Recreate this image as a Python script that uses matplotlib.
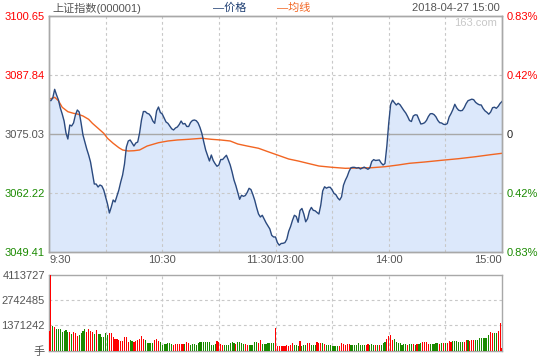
import matplotlib
matplotlib.use("Agg")
import matplotlib.pyplot as plt
import numpy as np

plt.rcParams['font.family'] = ['Liberation Sans', 'Noto Sans CJK SC', 'DejaVu Sans']
plt.rcParams['font.size'] = 8

prev_close = 3075.03

# one price per minute, 9:30-11:30 then 13:00-15:00
price = [
    3082.41, 3082.26, 3082.85, 3084.73, 3083.50, 3082.41, 3080.67, 3079.37, 3077.85, 3075.25,
    3073.94, 3076.98, 3076.77, 3077.42, 3079.15, 3080.24, 3079.81, 3077.42, 3074.81, 3073.29,
    3071.77, 3070.47, 3068.95, 3066.56, 3064.17, 3064.17, 3063.52, 3063.96, 3063.74, 3062.87,
    3061.35, 3059.83, 3057.88, 3059.18, 3060.70, 3060.27, 3061.57, 3062.87, 3064.61, 3066.13,
    3068.52, 3072.21, 3073.51, 3073.73, 3073.08, 3072.42, 3073.08, 3073.29, 3075.25, 3078.07,
    3079.91, 3079.91, 3079.52, 3079.37, 3078.83, 3077.85, 3077.35, 3080.02, 3080.89, 3079.70,
    3079.37, 3078.50, 3077.64, 3077.35, 3076.77, 3076.16, 3075.90, 3076.33, 3076.55, 3077.09,
    3077.85, 3077.20, 3077.31, 3076.66, 3076.66, 3077.53, 3077.96, 3078.07, 3077.92, 3077.42,
    3076.44, 3075.14, 3073.29, 3071.56, 3070.36, 3069.17, 3070.47, 3069.28, 3068.58, 3068.02,
    3068.30, 3069.49, 3069.49, 3069.97, 3070.41, 3069.39, 3068.30, 3066.78, 3065.04, 3063.81,
    3062.37, 3060.85, 3061.72, 3061.50, 3061.66, 3062.33, 3063.24, 3062.96, 3061.89, 3060.64,
    3059.05, 3057.66, 3057.01, 3057.38, 3056.58, 3055.75, 3055.06, 3054.41, 3053.02, 3052.67,
    3052.67, 3051.45, 3050.89, 3051.26, 3051.30, 3051.45, 3052.19, 3053.91, 3054.95, 3056.29,
    3057.38, 3057.12, 3055.86, 3058.42, 3058.86, 3057.66, 3055.97, 3056.64, 3058.31, 3059.09,
    3058.46, 3058.36, 3057.99, 3057.66, 3059.62, 3062.66, 3063.57, 3063.26, 3063.48, 3063.46,
    3062.89, 3062.13, 3061.85, 3061.14, 3060.70, 3061.40, 3063.89, 3064.98, 3065.82, 3066.95,
    3067.71, 3067.80, 3067.78, 3067.63, 3067.74, 3067.43, 3067.65, 3067.84, 3067.61, 3067.37,
    3067.71, 3069.06, 3069.47, 3069.28, 3069.34, 3069.39, 3068.73, 3068.30, 3068.63, 3072.42,
    3077.42, 3081.43, 3082.37, 3081.83, 3081.33, 3081.70, 3081.37, 3080.74, 3080.13, 3079.59,
    3078.83, 3077.96, 3077.74, 3078.94, 3079.20, 3079.15, 3078.18, 3077.20, 3077.29, 3077.48,
    3077.98, 3078.83, 3079.42, 3079.46, 3079.24, 3078.76, 3077.98, 3077.48, 3077.42, 3077.14,
    3077.07, 3077.29, 3078.72, 3079.46, 3080.35, 3081.48, 3080.70, 3080.20, 3080.07, 3080.15,
    3080.76, 3081.63, 3082.26, 3082.43, 3082.59, 3082.48, 3081.91, 3081.59, 3081.37, 3081.33,
    3080.57, 3080.05, 3079.74, 3079.33, 3079.81, 3080.74, 3080.85, 3080.61, 3081.04, 3081.67,
    3082.09,
]

# average price line (read at these minutes)
avg_minute = [0, 3, 5, 7, 10, 13, 15, 18, 21, 23, 26, 29, 31, 34, 37, 39, 42, 45, 48, 52,
              58, 63, 68, 74, 81, 86, 91, 96, 100, 105, 111, 116, 121, 127, 132, 137, 143, 150, 157, 164,
              171, 178, 185, 191, 199, 208, 217, 226, 234, 240]
avg_price = [3082.56, 3083.00, 3082.26, 3080.83, 3079.87, 3079.52, 3079.37, 3078.94, 3078.22, 3077.35,
             3076.27, 3075.18, 3074.10, 3073.01, 3072.06, 3071.56, 3071.34, 3071.40, 3071.56, 3072.42,
             3073.14, 3073.51, 3073.73, 3073.88, 3074.10, 3073.88, 3073.73, 3073.51, 3072.86, 3072.42,
             3071.93, 3071.19, 3070.47, 3069.60, 3069.17, 3068.67, 3068.08, 3067.80, 3067.58, 3067.65,
             3067.71, 3067.93, 3068.30, 3068.67, 3068.95, 3069.32, 3069.67, 3070.10, 3070.54, 3070.84]

# volume per minute (手) and whether the bar is red (1) or green (0)
volume = [
    1080000, 4113727, 1350000, 1300000, 1170000, 1170000, 1170000, 1030000, 1080000, 1120000,
    1030000, 1030000, 900000, 1000000, 960000, 790000, 850000, 970000, 1060000, 1150000,
    1030000, 1150000, 1080000, 1030000, 900000, 1120000, 900000, 900000, 760000, 760000,
    960000, 850000, 970000, 970000, 720000, 630000, 630000, 580000, 520000, 520000,
    720000, 720000, 490000, 580000, 520000, 490000, 520000, 580000, 650000, 790000,
    610000, 580000, 400000, 400000, 400000, 400000, 580000, 610000, 520000, 490000,
    310000, 340000, 360000, 400000, 400000, 340000, 310000, 360000, 360000, 360000,
    360000, 360000, 360000, 450000, 400000, 290000, 360000, 360000, 310000, 400000,
    450000, 490000, 490000, 490000, 490000, 490000, 310000, 310000, 360000, 520000,
    450000, 360000, 310000, 310000, 310000, 310000, 400000, 450000, 400000, 360000,
    450000, 450000, 400000, 360000, 360000, 310000, 310000, 310000, 310000, 490000,
    490000, 400000, 580000, 360000, 360000, 360000, 400000, 400000, 400000, 430000,
    1210000, 250000, 250000, 250000, 250000, 250000, 290000, 250000, 310000, 400000,
    310000, 310000, 250000, 520000, 250000, 310000, 310000, 410000, 410000, 310000,
    310000, 310000, 450000, 400000, 400000, 400000, 360000, 310000, 310000, 310000,
    270000, 250000, 250000, 250000, 250000, 400000, 360000, 310000, 360000, 360000,
    310000, 310000, 310000, 310000, 400000, 310000, 310000, 310000, 310000, 340000,
    310000, 340000, 310000, 310000, 310000, 310000, 310000, 400000, 450000, 630000,
    790000, 850000, 580000, 630000, 490000, 400000, 400000, 310000, 360000, 360000,
    310000, 340000, 360000, 360000, 310000, 360000, 360000, 400000, 450000, 450000,
    450000, 340000, 360000, 360000, 360000, 400000, 400000, 360000, 400000, 400000,
    400000, 400000, 520000, 490000, 520000, 520000, 520000, 490000, 490000, 490000,
    490000, 580000, 580000, 540000, 580000, 580000, 580000, 580000, 670000, 670000,
    670000, 670000, 700000, 850000, 1030000, 940000, 940000, 970000, 1060000, 1500000,
    130000,
]
up = [
    1, 1, 0, 1, 0, 0, 0, 0, 0, 0,
    0, 1, 0, 1, 1, 1, 0, 0, 0, 0,
    1, 1, 1, 1, 0, 1, 0, 0, 0, 0,
    0, 0, 1, 1, 1, 1, 1, 1, 1, 1,
    1, 1, 1, 0, 0, 1, 1, 1, 1, 1,
    1, 0, 0, 0, 0, 0, 1, 1, 1, 0,
    0, 0, 0, 0, 0, 0, 1, 1, 1, 1,
    1, 1, 0, 1, 1, 0, 0, 0, 0, 0,
    0, 0, 0, 0, 0, 0, 0, 0, 0, 1,
    1, 1, 1, 0, 0, 0, 0, 0, 0, 1,
    0, 0, 0, 0, 1, 1, 0, 0, 0, 0,
    0, 1, 1, 0, 0, 0, 0, 0, 0, 0,
    1, 1, 1, 1, 1, 1, 1, 1, 1, 1,
    0, 0, 0, 1, 0, 0, 0, 1, 1, 0,
    0, 0, 1, 1, 1, 0, 1, 0, 0, 0,
    0, 0, 0, 0, 1, 1, 1, 1, 1, 1,
    0, 0, 0, 0, 0, 0, 0, 0, 1, 1,
    0, 0, 0, 1, 0, 1, 0, 0, 0, 1,
    1, 1, 1, 0, 0, 0, 0, 0, 0, 0,
    1, 0, 0, 1, 0, 1, 0, 0, 1, 1,
    1, 1, 0, 0, 0, 0, 0, 1, 0, 1,
    0, 1, 1, 1, 0, 0, 0, 0, 0, 0,
    1, 1, 0, 1, 1, 1, 0, 0, 0, 0,
    0, 0, 0, 0, 1, 1, 0, 0, 1, 1,
    1,
]

tick_minutes = [0, 60, 120, 180, 240]
tick_labels = ["9:30", "10:30", "11:30/13:00", "14:00", "15:00"]
price_ticks = [3049.41, 3062.22, 3075.03, 3087.84, 3100.65]
vol_ticks = [0, 1371242, 2742485, 4113727]

RED = '#ff0000'
GREEN = '#1a8a00'
GRID = '#c8c8c8'
FRAME = '#a8a8a8'
TEXT = '#555555'
dash = (0, (2.5, 2.5))

minutes = np.arange(len(price))

fig = plt.figure(figsize=(5.4, 3.6), dpi=100)
ax = fig.add_axes([49 / 540, 1 - 252 / 360, 453 / 540, 236 / 360])
axv = fig.add_axes([49 / 540, 1 - 350.7 / 360, 453 / 540, 76 / 360])

# price panel
ax.fill_between(minutes, price, price_ticks[0], color='#dce8fb', lw=0, zorder=1)
for m in range(30, 240, 30):
    ax.axvline(m, color=GRID, lw=0.8, ls=dash, zorder=2)
for p in (price_ticks[1], price_ticks[3]):
    ax.axhline(p, color=GRID, lw=0.8, ls=dash, zorder=2)
ax.axhline(prev_close, color=FRAME, lw=1, zorder=2)
ax.plot(minutes, price, color='#2b4a7f', lw=1, zorder=4)
ax.plot(avg_minute, avg_price, color='#f26522', lw=1, zorder=3)
ax.set_xlim(0, 240)
ax.set_ylim(price_ticks[0], price_ticks[-1])

lab_colors = [GREEN, GREEN, TEXT, RED, RED]
ax.set_yticks(price_ticks, ['%.2f' % p for p in price_ticks])
for t, c in zip(ax.get_yticklabels(), lab_colors):
    t.set_color(c)
ax.set_xticks(tick_minutes, tick_labels)
xl = ax.get_xticklabels()
xl[0].set_ha('left')
xl[-1].set_ha('right')
for t in xl:
    t.set_color(TEXT)
ax.tick_params(length=0, pad=3)
ax.tick_params(axis='x', pad=2)

axr = ax.twinx()
axr.set_ylim(price_ticks[0], price_ticks[-1])
pct = []
for p in price_ticks:
    v = abs(p - prev_close) / prev_close * 100
    pct.append('0' if v < 0.005 else '%.2f%%' % v)
axr.set_yticks(price_ticks, pct)
for t, c in zip(axr.get_yticklabels(), [GREEN, GREEN, '#222222', RED, RED]):
    t.set_color(c)
axr.tick_params(length=0, pad=3)

for a in (ax, axr, axv):
    for s in a.spines.values():
        s.set_color(FRAME)
        s.set_linewidth(1)

ax.text(0.988, 0.97, '163.com', transform=ax.transAxes, ha='right', va='center',
        color='#c8c8c8', fontsize=8)

# volume panel
axv.bar(minutes, volume, width=0.6, color=[RED if u else GREEN for u in up], lw=0,
        zorder=3, antialiased=False)
for m in range(30, 240, 30):
    axv.axvline(m, color=GRID, lw=0.8, ls=dash, zorder=1)
for v in vol_ticks[1:3]:
    axv.axhline(v, color=GRID, lw=0.8, ls=dash, zorder=1)
axv.set_xlim(0, 240)
axv.set_ylim(0, vol_ticks[-1])
axv.set_xticks([])
axv.set_yticks(vol_ticks, ['手'] + [str(v) for v in vol_ticks[1:]])
for t in axv.get_yticklabels():
    t.set_color(TEXT)
axv.tick_params(length=0, pad=3)

# header
fig.text(52 / 540, 1 - 8 / 360, '上证指数(000001)', color=TEXT, ha='left', va='center')
fig.text(213 / 540, 1 - 8 / 360, '—价格', color='#1f3f73', ha='left', va='center')
fig.text(277 / 540, 1 - 8 / 360, '—均线', color='#f26522', ha='left', va='center')
fig.text(500 / 540, 1 - 8 / 360, '2018-04-27 15:00', color=TEXT, ha='right', va='center')

fig.savefig('out.png', dpi=100)
